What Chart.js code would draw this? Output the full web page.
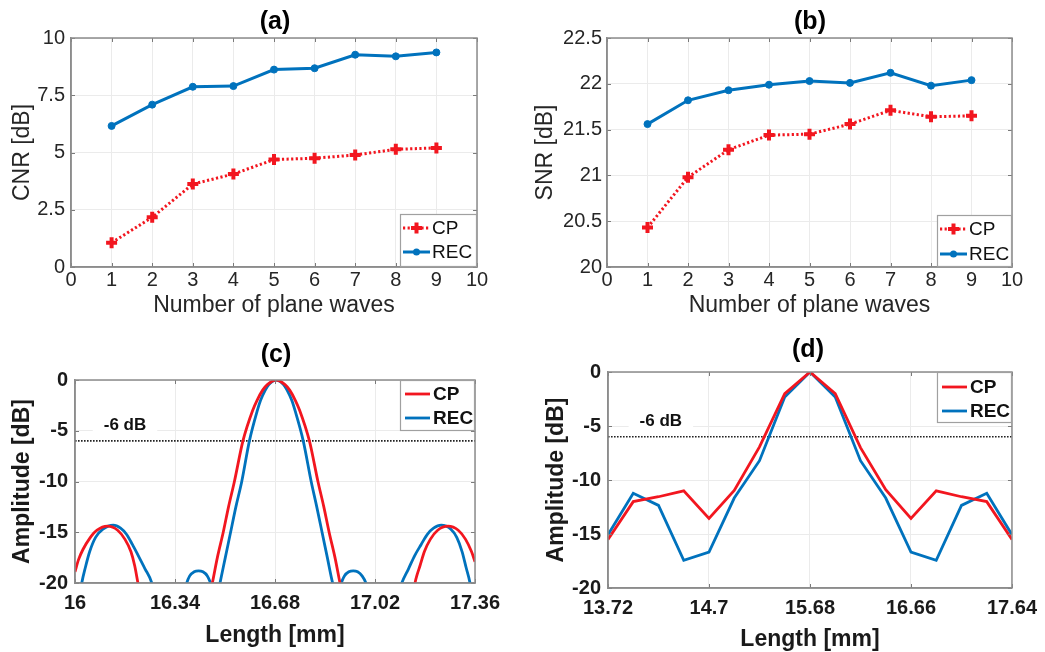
<!DOCTYPE html>
<html>
<head>
<meta charset="utf-8">
<script src="https://cdn.jsdelivr.net/npm/chart.js@4.4.0/dist/chart.umd.min.js"></script>
<style>
  body { margin: 0; background: #fff; width: 1045px; height: 652px; position: relative; overflow: hidden; }
  canvas { position: absolute; }
</style>
</head>
<body>
<canvas id="ca" width="515" height="322" style="left:0;top:0"></canvas>
<canvas id="cb" width="525" height="322" style="left:520px;top:0"></canvas>
<canvas id="cc" width="515" height="327" style="left:0;top:325px"></canvas>
<canvas id="cd" width="525" height="327" style="left:520px;top:325px"></canvas>
<script>
// (a) and (b): contrast / signal to noise vs number of plane waves
var planeWaves = [1, 2, 3, 4, 5, 6, 7, 8, 9];
var cnrCP  = [1.06, 2.17, 3.62, 4.06, 4.69, 4.75, 4.89, 5.14, 5.20];
var cnrREC = [6.16, 7.09, 7.87, 7.90, 8.62, 8.68, 9.27, 9.20, 9.37];
var snrCP  = [20.43, 20.98, 21.28, 21.44, 21.45, 21.56, 21.71, 21.64, 21.65];
var snrREC = [21.56, 21.82, 21.93, 21.99, 22.03, 22.01, 22.12, 21.98, 22.04];
var waveTicks = [0, 1, 2, 3, 4, 5, 6, 7, 8, 9, 10];
var cnrTicks = [0, 2.5, 5, 7.5, 10];
var snrTicks = [20, 20.5, 21, 21.5, 22, 22.5];

// (c) beam profiles, values below -20 dB fall outside the axes
var cCPx = [16.0, 16.012, 16.027, 16.05, 16.075, 16.11, 16.145, 16.17, 16.19, 16.203, 16.214, 16.228,
            16.34,
            16.452, 16.467, 16.484, 16.504, 16.522, 16.542, 16.571, 16.604, 16.619, 16.638, 16.654, 16.684,
            16.714, 16.730, 16.749, 16.764, 16.797, 16.826, 16.846, 16.864, 16.884, 16.901, 16.916,
            17.03,
            17.145, 17.156, 17.163, 17.173, 17.188, 17.208, 17.233, 17.268, 17.303, 17.328, 17.348, 17.36];
var cCPy = [-18.9, -17.7, -16.7, -15.6, -14.8, -14.4, -14.8, -15.7, -16.9, -18.3, -20, -22,
            -35,
            -22, -20, -17.5, -15, -12.5, -10, -6, -3, -2, -1, -0.45, 0,
            -0.45, -1, -2, -3, -6, -10, -12.5, -15, -17.5, -20, -22,
            -35,
            -22, -20, -19.2, -18.3, -16.9, -15.7, -14.8, -14.4, -14.8, -15.7, -16.9, -17.9];
var cRECx = [16.0, 16.012, 16.023, 16.035, 16.05, 16.07, 16.095, 16.13, 16.155, 16.175, 16.195, 16.215, 16.238, 16.261, 16.272,
             16.32,
             16.372, 16.38, 16.39, 16.405, 16.42, 16.435, 16.45, 16.461, 16.469, 16.477, 16.485,
             16.493, 16.511, 16.529, 16.547, 16.567, 16.593, 16.620, 16.631, 16.647, 16.659, 16.684,
             16.709, 16.721, 16.737, 16.748, 16.776, 16.803, 16.822, 16.840, 16.858, 16.876,
             16.884, 16.89, 16.897, 16.905, 16.916, 16.931, 16.946, 16.961, 16.976, 16.989, 16.997,
             17.05,
             17.10, 17.111, 17.134, 17.155, 17.177, 17.198, 17.219, 17.245, 17.278, 17.298, 17.316, 17.330, 17.343, 17.353, 17.36];
var cRECy = [-25, -22, -20, -18.5, -16.9, -15.5, -14.7, -14.3, -14.6, -15.2, -16.2, -17.3, -18.6, -20, -21.5,
             -35,
             -21, -20, -19.3, -18.9, -18.8, -18.9, -19.3, -20, -21.2, -30, -21.5,
             -20, -17.5, -15, -12.5, -10, -6, -3, -2, -1, -0.45, 0,
             -0.45, -1, -2, -3, -6, -10, -12.5, -15, -17.5, -20,
             -21.5, -30, -21.2, -20, -19.3, -18.9, -18.8, -18.9, -19.3, -20, -21,
             -35,
             -21, -20, -18.6, -17.3, -16.2, -15.2, -14.6, -14.3, -14.7, -15.5, -16.9, -18.5, -20, -22, -24];
var cTicks = [16, 16.34, 16.68, 17.02, 17.36];

// (d) sampled profiles
var dLength = [13.72, 13.965, 14.21, 14.455, 14.7, 14.945, 15.19, 15.435, 15.68,
               15.925, 16.17, 16.415, 16.66, 16.905, 17.15, 17.395, 17.64];
var dCP  = [-15.5, -12.0, -11.55, -11.0, -13.55, -10.96, -6.94, -2.0, 0,
            -2.0, -7.0, -10.9, -13.55, -11.0, -11.55, -12.0, -15.5];
var dREC = [-15.06, -11.23, -12.35, -17.44, -16.67, -11.67, -8.21, -2.31, 0,
            -2.31, -8.21, -11.67, -16.67, -17.44, -12.35, -11.23, -15.06];
var dTicks = [13.72, 14.7, 15.68, 16.66, 17.64];
var ampTicks = [-20, -15, -10, -5, 0];
var halfPower = -6;

var RED = '#f2161f';
var BLUE = '#0072bd';
var FONT = "'Liberation Sans', Arial, sans-serif";

function pts(xs, ys) {
    return xs.map(function (x, i) { return { x: x, y: ys[i] }; });
}

function fmt(v) { return String(v); }

var framePlugin = {
    id: 'frame',
    afterDraw: function (chart) {
        var o = chart.options.plugins.frame;
        var ctx = chart.ctx, a = chart.chartArea;
        var xs = chart.scales.x, ys = chart.scales.y;
        ctx.save();
        // inward tick marks
        ctx.strokeStyle = '#7a7a7a';
        ctx.lineWidth = 1;
        ctx.beginPath();
        xs.ticks.forEach(function (t) {
            var px = Math.round(xs.getPixelForValue(t.value)) + 0.5;
            ctx.moveTo(px, a.bottom); ctx.lineTo(px, a.bottom - 4);
            ctx.moveTo(px, a.top); ctx.lineTo(px, a.top + 4);
        });
        ys.ticks.forEach(function (t) {
            var py = Math.round(ys.getPixelForValue(t.value)) + 0.5;
            ctx.moveTo(a.left, py); ctx.lineTo(a.left + 4, py);
            ctx.moveTo(a.right, py); ctx.lineTo(a.right - 4, py);
        });
        ctx.stroke();
        ctx.lineWidth = 1.5;
        ctx.strokeStyle = '#8c8c8c';
        ctx.strokeRect(a.left, a.top, a.right - a.left, a.bottom - a.top);

        // panel title
        ctx.fillStyle = '#000';
        ctx.font = 'bold 25px ' + FONT;
        ctx.textAlign = 'center';
        ctx.textBaseline = 'middle';
        ctx.fillText(o.title, o.titleX, o.titleY);

        // -6 dB annotation
        if (o.dbLabel) {
            var lx = xs.getPixelForValue(o.dbLabel[0]);
            var ly = ys.getPixelForValue(o.dbLabel[1]);
            ctx.font = 'bold 17px ' + FONT;
            var tw = ctx.measureText('-6 dB').width;
            ctx.fillStyle = '#fff';
            ctx.fillRect(lx - tw / 2 - 11, ly - 9, tw + 22, 18);
            ctx.fillStyle = '#111';
            ctx.fillText('-6 dB', lx, ly);
        }

        // legend box
        var L = o.legend;
        var bx = a.right - L.w;
        var by = L.bottom ? a.bottom - L.h : a.top;
        ctx.fillStyle = '#fff';
        ctx.fillRect(bx, by, L.w, L.h);
        ctx.strokeStyle = '#a0a0a0';
        ctx.lineWidth = 1.2;
        ctx.strokeRect(bx + 0.5, by + 0.5, L.w - 1, L.h - 1);
        ctx.font = L.font;
        ctx.textAlign = 'left';
        chart.data.datasets.forEach(function (ds, i) {
            if (i >= L.rows.length) return;
            var ry = by + L.rows[i];
            var cx = bx + (L.lx0 + L.lx1) / 2;
            ctx.save();
            ctx.strokeStyle = ds.borderColor;
            ctx.lineWidth = ds.borderWidth;
            ctx.setLineDash(ds.borderDash || []);
            ctx.beginPath();
            ctx.moveTo(bx + L.lx0, ry);
            ctx.lineTo(bx + L.lx1, ry);
            ctx.stroke();
            ctx.restore();
            if (ds.pointRadius > 0) {
                var r = ds.pointRadius;
                ctx.fillStyle = ds.pointBackgroundColor;
                ctx.strokeStyle = ds.pointBorderColor;
                ctx.lineWidth = ds.pointBorderWidth;
                ctx.beginPath();
                if (ds.pointStyle === 'circle') {
                    ctx.arc(cx, ry, r, 0, Math.PI * 2);
                    ctx.fill();
                } else {
                    ctx.moveTo(cx - r, ry); ctx.lineTo(cx + r, ry);
                    ctx.moveTo(cx, ry - r); ctx.lineTo(cx, ry + r);
                    ctx.stroke();
                }
            }
            ctx.fillStyle = '#111';
            ctx.fillText(ds.label, bx + L.tx, ry + 1);
        });
        ctx.restore();
    }
};

function makeChart(id, p) {
    var tickFont = { family: FONT, size: 20, weight: p.bold ? 'bold' : 'normal' };
    var titleFont = { family: FONT, size: 23, weight: p.bold ? 'bold' : 'normal', lineHeight: 1 };
    var txtColor = p.bold ? '#1a1a1a' : '#262626';
    return new Chart(document.getElementById(id), {
        type: 'line',
        data: { datasets: p.datasets },
        options: {
            responsive: false,
            animation: false,
            layout: { padding: p.padding },
            plugins: {
                legend: { display: false },
                tooltip: { enabled: false },
                frame: p.frame
            },
            scales: {
                x: {
                    type: 'linear',
                    min: p.xTicks[0],
                    max: p.xTicks[p.xTicks.length - 1],
                    afterBuildTicks: function (s) { s.ticks = p.xTicks.map(function (v) { return { value: v }; }); },
                    afterFit: function (s) { s.height = p.xHeight; },
                    grid: { color: '#ebebeb', lineWidth: 1, drawTicks: false },
                    border: { display: true, color: '#8c8c8c', width: 1.5 },
                    ticks: { font: tickFont, color: txtColor, padding: p.xTickPad, autoSkip: false, maxRotation: 0, callback: fmt },
                    title: { display: true, text: p.xTitle, font: titleFont, color: txtColor, padding: { top: 0, bottom: p.xTitlePad } }
                },
                y: {
                    type: 'linear',
                    min: p.yTicks[0],
                    max: p.yTicks[p.yTicks.length - 1],
                    afterBuildTicks: function (s) { s.ticks = p.yTicks.map(function (v) { return { value: v }; }); },
                    afterFit: function (s) { s.width = p.yWidth; },
                    grid: { color: '#ebebeb', lineWidth: 1, drawTicks: false },
                    border: { display: true, color: '#8c8c8c', width: 1.5 },
                    ticks: { font: tickFont, color: txtColor, padding: p.yTickPad, autoSkip: false, callback: fmt },
                    title: { display: true, text: p.yTitle, font: titleFont, color: txtColor, padding: { top: p.yTitlePad, bottom: 0 } }
                }
            }
        },
        plugins: [framePlugin]
    });
}

function markerSeries(label, xs, ys, color, dotted) {
    return {
        label: label,
        data: pts(xs, ys),
        borderColor: color,
        backgroundColor: color,
        borderWidth: 3,
        borderDash: dotted ? [2.2, 2.4] : [],
        pointStyle: dotted ? 'cross' : 'circle',
        pointRadius: dotted ? 5.5 : 3.5,
        pointBorderWidth: dotted ? 4 : 1,
        pointBackgroundColor: color,
        pointBorderColor: color,
        tension: 0
    };
}

function profileSeries(label, xs, ys, color, smooth) {
    return {
        label: label,
        data: pts(xs, ys),
        borderColor: color,
        borderWidth: 2.8,
        pointRadius: 0,
        cubicInterpolationMode: smooth ? 'monotone' : 'default',
        capBezierPoints: false,
        tension: 0,
        clip: 0
    };
}

function sixDbLine(x0, x1) {
    return {
        label: '-6 dB',
        data: [{ x: x0, y: halfPower }, { x: x1, y: halfPower }],
        borderColor: '#222',
        borderWidth: 1.6,
        borderDash: [1.6, 1.4],
        pointRadius: 0,
        clip: 0
    };
}

makeChart('ca', {
    datasets: [
        markerSeries('CP', planeWaves, cnrCP, RED, true),
        markerSeries('REC', planeWaves, cnrREC, BLUE, false)
    ],
    xTicks: waveTicks, yTicks: cnrTicks,
    xTitle: 'Number of plane waves', yTitle: 'CNR [dB]',
    padding: { left: 0, top: 38, right: 38, bottom: 0 },
    yWidth: 71, xHeight: 55, xTickPad: 1, yTickPad: 6, xTitlePad: 5, yTitlePad: 11,
    frame: {
        title: '(a)', titleX: 275, titleY: 22,
        legend: { w: 77, h: 53, rows: [14, 38], lx0: 3, lx1: 30, tx: 32, bottom: true, font: '19px ' + FONT }
    }
});

makeChart('cb', {
    datasets: [
        markerSeries('CP', planeWaves, snrCP, RED, true),
        markerSeries('REC', planeWaves, snrREC, BLUE, false)
    ],
    xTicks: waveTicks, yTicks: snrTicks,
    xTitle: 'Number of plane waves', yTitle: 'SNR [dB]',
    padding: { left: 0, top: 38, right: 33, bottom: 0 },
    yWidth: 87, xHeight: 55, xTickPad: 1, yTickPad: 5, xTitlePad: 5, yTitlePad: 14,
    frame: {
        title: '(b)', titleX: 290, titleY: 22,
        legend: { w: 75, h: 52, rows: [14, 39], lx0: 3, lx1: 30, tx: 32, bottom: true, font: '19px ' + FONT }
    }
});

makeChart('cc', {
    bold: true,
    datasets: [
        profileSeries('CP', cCPx, cCPy, RED, true),
        profileSeries('REC', cRECx, cRECy, BLUE, true),
        sixDbLine(16, 17.36)
    ],
    xTicks: cTicks, yTicks: ampTicks,
    xTitle: 'Length [mm]', yTitle: 'Amplitude [dB]',
    padding: { left: 0, top: 55, right: 40, bottom: 0 },
    yWidth: 75, xHeight: 69, xTickPad: 8, yTickPad: 7, xTitlePad: 5, yTitlePad: 11,
    frame: {
        title: '(c)', titleX: 276, titleY: 30,
        dbLabel: [16.17, -4.45],
        legend: { w: 75, h: 51, rows: [14, 38], lx0: 5, lx1: 30, tx: 33, bottom: false, font: 'bold 19px ' + FONT }
    }
});

makeChart('cd', {
    bold: true,
    datasets: [
        profileSeries('CP', dLength, dCP, RED, false),
        profileSeries('REC', dLength, dREC, BLUE, false),
        sixDbLine(13.72, 17.64)
    ],
    xTicks: dTicks, yTicks: ampTicks,
    xTitle: 'Length [mm]', yTitle: 'Amplitude [dB]',
    padding: { left: 0, top: 47, right: 32, bottom: 0 },
    yWidth: 88, xHeight: 64, xTickPad: 8, yTickPad: 7, xTitlePad: 1, yTitlePad: 25,
    frame: {
        title: '(d)', titleX: 288, titleY: 25,
        dbLabel: [14.233, -4.54],
        legend: { w: 75, h: 51, rows: [15, 39], lx0: 5, lx1: 30, tx: 33, bottom: false, font: 'bold 19px ' + FONT }
    }
});
</script>
</body>
</html>
